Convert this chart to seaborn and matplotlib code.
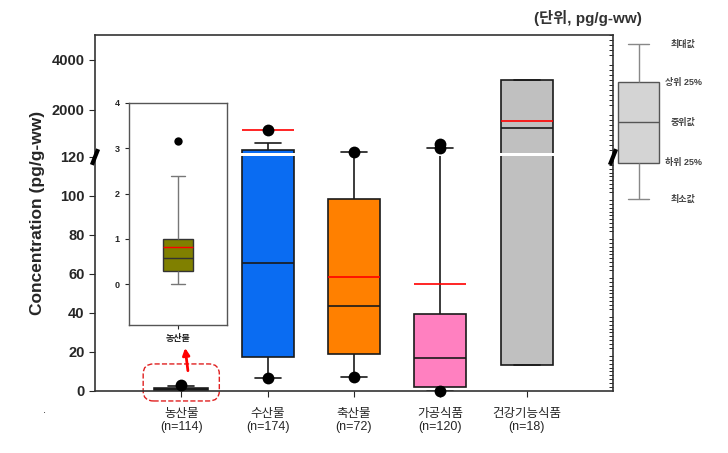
import numpy as np
import pandas as pd
import seaborn as sns
import matplotlib.pyplot as plt
from matplotlib.patches import FancyBboxPatch


# 품목별 농도 (pg/g-ww) - 그림에서 읽은 값
categories = ['농산물', '수산물', '축산물', '가공식품', '건강기능식품']
n_labels = ['(n=114)', '(n=174)', '(n=72)', '(n=120)', '(n=18)']
colors = ['black', '#0a6cf2', '#ff8000', '#ff80c0', '#c0c0c0']

whisker_low = [0, 6.7, 7.2, 0, 13.3]
q1 = [0.3, 17.4, 19, 2, 13.3]
median = [0.58, 65.6, 43.6, 17, 1280]
q3 = [1.0, 400, 98.5, 39.5, 3200]
whisker_high = [2.38, 680, 320, 480, 3200]
means = [0.83, 1200, 58.5, 55, 1560]

outlier_cat = ['농산물', '수산물', '수산물', '축산물', '축산물', '가공식품', '가공식품', '가공식품']
outlier_val = [3.17, 1200, 6.7, 320, 7.2, 480, 640, 0]

# 확대 그림 (농산물)
inset_stats = [0, 0.3, 0.58, 1.0, 2.38]
inset_mean = 0.83
inset_outlier = [3.17]

# 범례 상자
legend_vals = [0, 36, 77, 117, 155]
legend_labels = ['최소값', '하위 25%', '중위값', '상위 25%', '최대값']

yticks = [0, 20, 40, 60, 80, 100, 120, 2000, 4000]

# 축 끊김: 0-120 구간은 그대로, 120 이상은 압축
BREAK = 120
K = 0.01282


def fwd(v):
    v = np.asarray(v, dtype=float)
    return np.where(v <= BREAK, v, BREAK + (v - BREAK) * K)


def inv(t):
    t = np.asarray(t, dtype=float)
    return np.where(t <= BREAK, t, BREAK + (t - BREAK) / K)


df = pd.DataFrame({
    'cat': np.repeat(categories, 5),
    'val': np.column_stack([whisker_low, q1, median, q3, whisker_high]).ravel(),
})
out_df = pd.DataFrame({'cat': outlier_cat, 'val': outlier_val})

sns.set_style('ticks')
plt.rcParams['font.family'] = ['Liberation Sans', 'Noto Sans CJK KR', 'DejaVu Sans']

fig = plt.figure(figsize=(7.28, 4.53), dpi=100)
ax = fig.add_axes([95 / 728, 1 - 391 / 453, 518 / 728, 356 / 453])

sns.boxplot(data=df, x='cat', y='val', hue='cat', order=categories, hue_order=categories,
            palette=colors, legend=False, whis=np.inf, width=0.6, saturation=1,
            linecolor='#1a1a1a', linewidth=1.2, ax=ax)
# 농산물 상자는 굵은 막대로 보임
ax.patches[0].set_linewidth(2.6)
sns.stripplot(data=out_df, x='cat', y='val', order=categories, jitter=False, color='black',
              size=8.5, ax=ax, zorder=4, clip_on=False)

xpos = np.arange(len(categories))
ax.hlines(means[1:], xpos[1:] - 0.3, xpos[1:] + 0.3, colors='red', lw=1.2, zorder=3)

ax.set_yscale('function', functions=(fwd, inv))
ax.set_ylim(0, 5000)
ax.set_xlim(-1, 5)
ax.set_yticks(yticks)
ax.set_yticklabels([str(v) for v in yticks], fontweight='bold', fontsize=10.5)
minor = list(range(0, 121, 2)) + list(range(200, 5001, 200))
ax.set_yticks(minor, minor=True)
ax.tick_params(axis='y', which='major', direction='out', length=4, left=True, right=False)
ax.tick_params(axis='y', which='minor', direction='in', length=3, left=False, right=True, width=0.7)
ax.set_xticks(xpos, [f'{c}\n{n}' for c, n in zip(categories, n_labels)], fontsize=9)
ax.tick_params(axis='x', direction='out', length=4, pad=8)
ax.set_xlabel('')
ax.set_ylabel('Concentration (pg/g-ww)', fontweight='bold', fontsize=12.5)
ax.yaxis.set_label_coords(-0.097, 0.5)
for s in ax.spines.values():
    s.set_color('#333333')
    s.set_linewidth(1.2)

# 끊김 표시
ax.axhspan(140, 260, color='white', lw=0, zorder=2.45)
yb = fwd(BREAK) / fwd(5000)
for xb in (0, 1):
    ax.plot([xb - 0.006, xb + 0.006], [yb - 0.022, yb + 0.022], transform=ax.transAxes,
            color='black', lw=3, clip_on=False, zorder=5, solid_capstyle='butt')

# 농산물 강조 박스와 화살표
box = FancyBboxPatch((0.093, -0.028), 0.147, 0.104, transform=ax.transAxes,
                     boxstyle='round,pad=0,rounding_size=0.02', mutation_aspect=1.4,
                     fill=False, ec='#e02020', ls='--', lw=1, clip_on=False)
ax.add_patch(box)
ax.annotate('', xy=(0.04, 23.5), xytext=(0.08, 9),
            arrowprops=dict(arrowstyle='-|>', color='red', lw=2, mutation_scale=10))

# 확대 그림
axi = fig.add_axes([129 / 728, 1 - 325 / 453, 98 / 728, 222 / 453])
inset_df = pd.DataFrame({'cat': ['농산물'] * len(inset_stats), 'val': inset_stats})
sns.boxplot(data=inset_df, x='cat', y='val', color='#808000', whis=np.inf, width=0.3,
            saturation=1, linecolor='#333333', linewidth=1,
            whiskerprops={'color': '#777777'}, capprops={'color': '#777777'}, ax=axi)
sns.stripplot(x=['농산물'], y=inset_outlier, color='black', size=6, jitter=False, ax=axi, zorder=4)
axi.hlines(inset_mean, -0.15, 0.15, colors='red', lw=1, zorder=3)
axi.set_xlim(-0.5, 0.5)
axi.set_ylim(-0.9, 4)
axi.set_yticks([0, 1, 2, 3, 4])
axi.set_yticklabels(['0', '1', '2', '3', '4'], fontsize=6.5, fontweight='bold')
axi.tick_params(axis='x', labelsize=6.5, length=3)
axi.tick_params(axis='y', length=3)
for lab in axi.get_xticklabels():
    lab.set_fontweight('bold')
axi.set_xlabel('')
axi.set_ylabel('')
for s in axi.spines.values():
    s.set_color('#555555')
    s.set_linewidth(1)

# 범례 상자
axl = fig.add_axes([600 / 728, 1 - 205 / 453, 77 / 728, 167 / 453])
sns.boxplot(y=legend_vals, color='#d4d4d4', whis=np.inf, width=0.53, saturation=1,
            linecolor='#555555', linewidth=1, whiskerprops={'color': '#888888'},
            capprops={'color': '#888888'}, ax=axl)
axl.set_xlim(-0.5, 0.5)
axl.set_ylim(-6, 161)
axl.axis('off')
for v, lab in zip(legend_vals, legend_labels):
    axl.text(0.578, v, lab, ha='center', va='center', fontsize=6.5, color='#444444',
             fontweight='bold')

fig.text(588 / 728, 1 - 18 / 453, '(단위, pg/g-ww)', ha='center', va='center', fontsize=11,
         fontweight='bold', color='#333333')
fig.text(45 / 728, 1 - 410 / 453, '.', ha='center', va='center', fontsize=8)

plt.savefig('out.png', dpi=100)
